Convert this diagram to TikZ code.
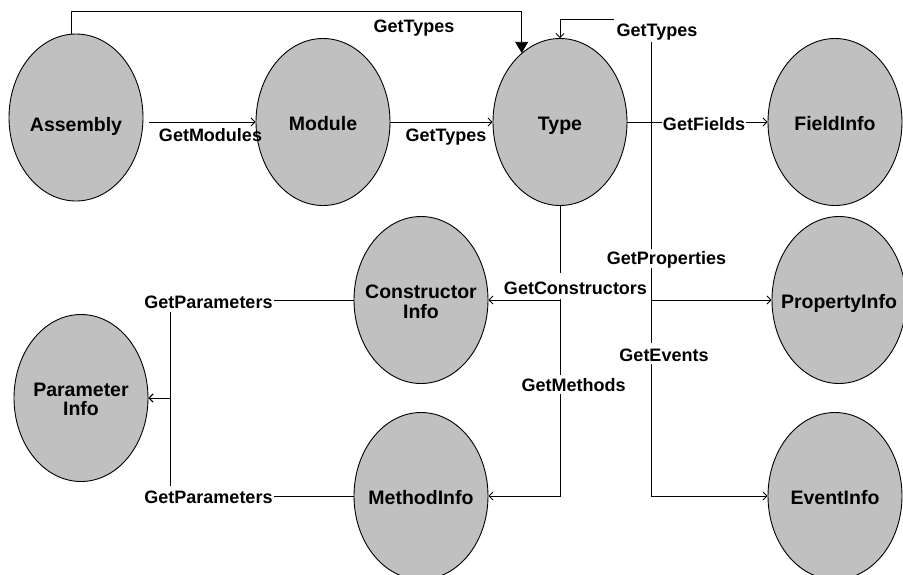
\documentclass[tikz,border=0pt]{standalone}
\usepackage{fontspec}
\setmainfont{Liberation Sans}
\usetikzlibrary{shapes.geometric,arrows.meta}
\definecolor{entgray}{RGB}{192,192,192}
\newcommand\nlab[2][9.4pt]{\raisebox{-#1}[0pt][0pt]{\makebox[0pt]{\begin{tabular}{@{}c@{}}#2\end{tabular}}}}
\begin{document}
\begin{tikzpicture}[x=1pt,y=-1pt,
  ent/.style={ellipse,draw=black,line width=0.9pt,fill=entgray,minimum width=134pt,minimum height=167pt,inner sep=0pt,font=\fontsize{19.5}{18.5}\selectfont\bfseries},
  arr/.style={draw=black,line width=0.8pt,-{Straight Barb[length=4pt,width=8pt]}},
  tri/.style={draw=black,line width=0.8pt,-{Triangle[length=11pt,width=13pt]}},
  lbl/.style={font=\fontsize{18}{18}\selectfont\bfseries,anchor=base,inner xsep=1pt,inner ysep=0pt},
  lblw/.style={lbl,fill=white}]
\useasboundingbox (0,0) rectangle (903,574);
% entities
\node[ent] (asm) at (76,117.5) {\nlab[14.9pt]{Assembly}};
\node[ent] (mod) at (323,122) {\nlab{Module}};
\node[ent] (type) at (560,122) {\nlab{Type}};
\node[ent] (field) at (835,122) {\nlab{FieldInfo}};
\node[ent] (ctor) at (421,300) {\nlab{Constructor\\Info}};
\node[ent] (prop) at (839,300) {\nlab{PropertyInfo}};
\node[ent] (param) at (81,398) {\nlab{Parameter\\Info}};
\node[ent] (meth) at (421,496) {\nlab{MethodInfo}};
\node[ent] (event) at (835,496) {\nlab{EventInfo}};
% junction points
\coordinate (tr) at (651,122);
\coordinate (loop) at (651,19);
\coordinate (pj) at (170,398);
% connectors
\draw[tri] (asm.93) -- ++(0,-22) -| (type.119);
\draw[arr] ([xshift=6pt]asm.east |- mod.west) -- (mod.west);
\draw[arr] (mod.east) -- (type.west);
\draw[arr] (type.south) |- (ctor.east);
\draw[arr] (type.south) |- (meth.east);
\node[lblw,text height=21pt,text depth=5pt,inner xsep=0pt] (l7) at (575.5,294) {GetConstructors};
\draw[arr] (type.east) -- (tr) -- (loop) -| (type.north);
\draw[arr] (type.east) -- (field.west);
\draw[arr] (tr) |- (prop.west);
\draw[arr] (tr) |- (event.west);
\draw[arr] (ctor.west) -| (pj) -- (param.east);
\draw[arr] (meth.west) -| (pj) -- (param.east);
% labels
\node[lbl] (l1) at (414,32) {GetTypes};
\node[lbl] (l2) at (210.5,141) {GetModules};
\node[lbl] (l3) at (446,141) {GetTypes};
\node[lblw,text height=18.5pt,text depth=5pt,inner xsep=3pt] (l4) at (657,36.5) {GetTypes};
\node[lblw,text height=14pt,text depth=3pt] (l5) at (704,130) {GetFields};
\node[lblw,text height=15pt,text depth=4pt] (l6) at (666.5,264) {GetProperties};
\node[lblw,text height=19pt,text depth=2pt] (l8) at (664,361.5) {GetEvents};
\node[lblw,text height=16.5pt,text depth=2pt] (l9) at (573.5,391.5) {GetMethods};
\node[lblw,text height=15pt,text depth=4pt] (l10) at (208.5,308) {GetParameters};
\node[lblw,text height=17pt,text depth=3pt] (l11) at (208.5,503) {GetParameters};
\end{tikzpicture}
\end{document}
